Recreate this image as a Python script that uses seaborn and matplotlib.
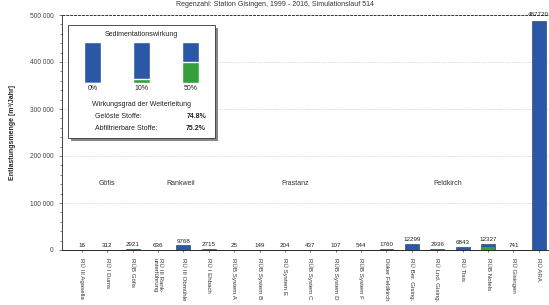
import numpy as np
import pandas as pd
import seaborn as sns
import matplotlib.pyplot as plt
from matplotlib.ticker import AutoMinorLocator, FuncFormatter
from matplotlib.patches import Rectangle

# --- DATEN ---
standorte = ["RÜ III Agasella", "RÜ I Dums", "RÜB Göfis", "RÜ III Rank-\nunterführung",
             "RÜ III Obmühle", "RÜ I Ehbach", "RÜB System A", "RÜB System B",
             "RÜ System E", "RÜB System C", "RÜB System D", "RÜB System F",
             "Düker Feldkirch", "RÜ Ber. Gising.", "RÜ Lnd. Gising.", "RÜ Tisis",
             "RÜB Nofels", "RÜ Gisingen", "RÜ ARA"]
entlastung = [16, 312, 2921, 636, 9768, 2715, 25, 149, 204, 437, 107, 544,
              1760, 12299, 2936, 6843, 12327, 741, 487720]
sediment = [0, 0, 0, 0, 0, 0, 0, 0, 0, 0, 0, 0, 0, 0, 0, 0, 6160, 0, 0]

regionen = ["Göfis", "Rankweil", "Frastanz", "Feldkirch"]
region_pos = [1.0, 3.9, 8.4, 14.4]

sed_stufen = ["0%", "10%", "50%"]
sed_anteil = [0, 10, 50]

titel = "Regenzahl: Station Gisingen, 1999 - 2016, Simulationslauf 514"

BLAU = "#2b58a6"
GRUEN = "#33a03c"

sns.set_style("white")
plt.rcParams["font.family"] = ["Liberation Sans", "DejaVu Sans"]

df = pd.DataFrame({"standort": standorte, "gesamt": entlastung, "sed": sediment})

fig = plt.figure(figsize=(5.49, 3.05), dpi=100)
ax = fig.add_axes([62 / 549, 1 - 250 / 305, 1 - 62 / 549, 235 / 305])

sns.barplot(data=df, x="standort", y="gesamt", color=BLAU, width=0.55,
            saturation=1, edgecolor="#1a2f55", linewidth=0.4, ax=ax)
sns.barplot(data=df, x="standort", y="sed", color=GRUEN, width=0.55,
            saturation=1, linewidth=0, ax=ax)

ax.set_xlim(-0.78, 18.4)
ax.set_ylim(0, 500000)
ax.set_xlabel("")
ax.set_ylabel("Entlastungsmenge [m³/Jahr]", fontsize=5, fontweight="bold", labelpad=10)
ax.yaxis.set_major_locator(plt.MultipleLocator(100000))
ax.yaxis.set_minor_locator(AutoMinorLocator(5))
ax.yaxis.set_major_formatter(FuncFormatter(lambda v, p: f"{int(v):,}".replace(",", " ")))
ax.tick_params(axis="y", labelsize=4.8, length=2.5, width=0.5, left=True, colors="#444444")
ax.tick_params(axis="y", which="minor", length=1.5, width=0.4, left=True)
ax.set_xticks(range(len(standorte)))
ax.set_xticklabels(standorte, rotation=270, fontsize=4.4, va="top", ha="center",
                   linespacing=1.0)
ax.tick_params(axis="x", length=1.5, width=0.5, bottom=True, pad=4, colors="#333333")

for y in [100000, 200000, 300000, 400000]:
    ax.axhline(y, color="#bbbbbb", lw=0.5, ls=(0, (1, 1.5)), zorder=0)
ax.axhline(500000, color="#333333", lw=0.7, ls=(0, (3, 1)), zorder=0, clip_on=False)

sns.despine(ax=ax, top=True, right=True)
ax.spines["left"].set_linestyle((0, (2, 1)))
ax.spines["left"].set_linewidth(0.6)
ax.spines["bottom"].set_linewidth(0.7)

# Werte über den Balken
for i, v in enumerate(entlastung):
    if v > 100000:
        ax.text(i, 495000, f"{v}", fontsize=4.5, ha="center", va="bottom", color="#222222")
    else:
        ax.text(i, v + 4000, f"{v}", fontsize=4.5, ha="center", va="bottom", color="#222222")

# Regionen
for name, xp in zip(regionen, region_pos):
    ax.text(xp, 142000, name, fontsize=5, ha="center", va="center", color="#333333")

fig.text(0.5, 1 - 5 / 305, titel, fontsize=5, ha="center", va="center", color="#333333")

# --- Inset: Sedimentationswirkung ---
bx, by, bw, bh = 68 / 549, 1 - 138 / 305, 147 / 549, 113 / 305
fig.patches.append(Rectangle((bx + 3 / 549, by - 3 / 305), bw, bh, transform=fig.transFigure,
                             facecolor="#888888", edgecolor="none", zorder=3))
fig.patches.append(Rectangle((bx, by), bw, bh, transform=fig.transFigure,
                             facecolor="white", edgecolor="#333333", lw=0.6, zorder=4))

iax = fig.add_axes([68 / 549, 1 - 83 / 305, 147 / 549, 41 / 305], zorder=5)
iax.patch.set_alpha(0)
sns.barplot(x=sed_stufen, y=[100] * 3, color=BLAU, width=0.35, saturation=1, ax=iax)
sns.barplot(x=sed_stufen, y=sed_anteil, color=GRUEN, width=0.35, saturation=1, ax=iax)
iax.set_xlim(-0.5, 2.5)
iax.set_ylim(0, 100)
iax.set_xticks(range(3))
iax.set_xticklabels(sed_stufen, fontsize=5)
iax.tick_params(axis="x", length=0, pad=1.5)
iax.set_yticks([])
iax.set_xlabel("")
iax.set_ylabel("")
for s in iax.spines.values():
    s.set_visible(False)

tx = dict(fontsize=5, color="#222222", zorder=6)
fig.text(141 / 549, 1 - 35 / 305, "Sedimentationswirkung", ha="center", va="center", **tx)
fig.text(141 / 549, 1 - 105 / 305, "Wirkungsgrad der Weiterleitung", ha="center", va="center", **tx)
fig.text(95 / 549, 1 - 117 / 305, "Gelöste Stoffe:", ha="left", va="center", **tx)
fig.text(95 / 549, 1 - 128 / 305, "Abfiltrierbare Stoffe:", ha="left", va="center", **tx)
fig.text(206 / 549, 1 - 117 / 305, "74.8%", ha="right", va="center", fontweight="bold", **tx)
fig.text(206 / 549, 1 - 128 / 305, "75.2%", ha="right", va="center", fontweight="bold", **tx)

plt.savefig("out.png", dpi=100)
